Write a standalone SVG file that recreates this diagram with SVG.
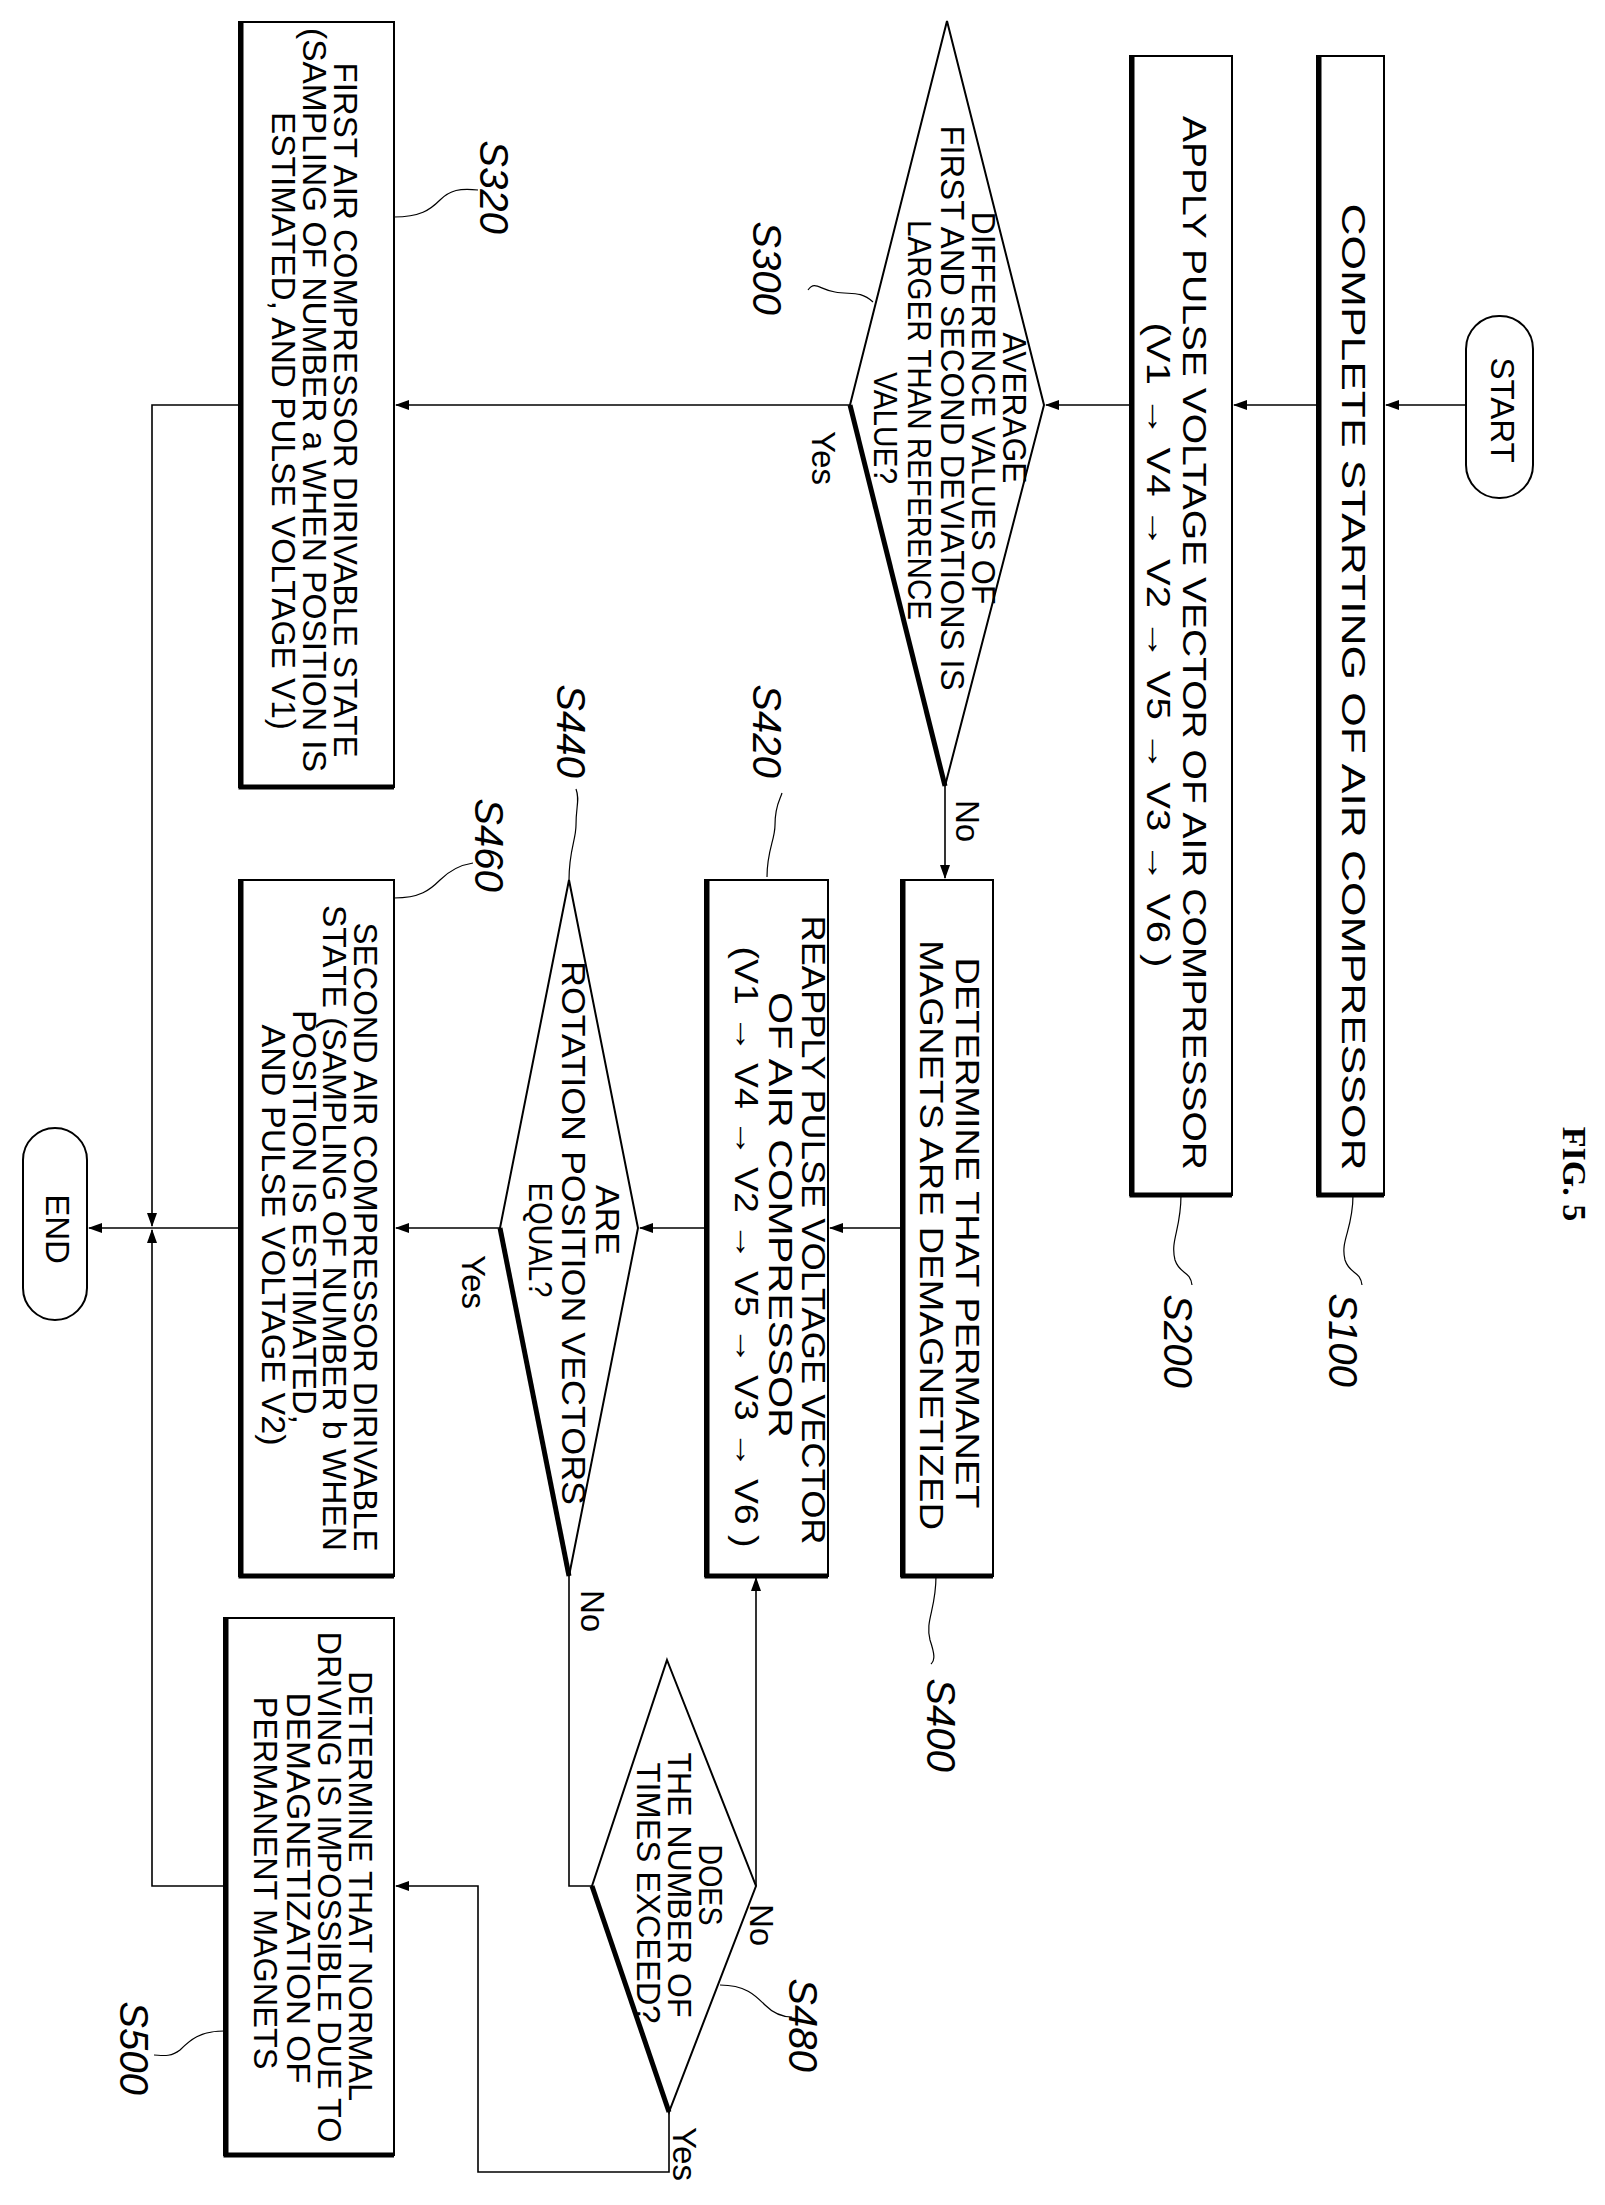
<svg xmlns="http://www.w3.org/2000/svg" width="1605" height="2205" viewBox="0 0 1605 2205">
<style>
.b{fill:#fff;stroke:#000;stroke-width:2}
.k{fill:none;stroke:#000;stroke-width:5}
.l{fill:none;stroke:#000;stroke-width:1.6}
.ld{fill:none;stroke:#000;stroke-width:1.2}
.t{font-family:"Liberation Sans",Arial,sans-serif;font-size:33px;text-anchor:middle;dominant-baseline:central}
.s{font-family:"Liberation Sans",Arial,sans-serif;font-style:italic;font-size:40px;text-anchor:middle;dominant-baseline:central}
</style>
<defs><marker id="a" markerWidth="14" markerHeight="10" refX="13" refY="5" orient="auto" markerUnits="userSpaceOnUse"><path d="M0,0 L14,5 L0,10 Z" fill="#000"/></marker></defs>
<g id="connectors">
<path class="l" d="M1466,405 H1386" marker-end="url(#a)"/>
<path class="l" d="M1317,405 H1234" marker-end="url(#a)"/>
<path class="l" d="M1130,405 H1046" marker-end="url(#a)"/>
<path class="l" d="M850,405 H396" marker-end="url(#a)"/>
<path class="l" d="M239,405 H152 V1226" marker-end="url(#a)"/>
<path class="l" d="M945,786 V878" marker-end="url(#a)"/>
<path class="l" d="M901,1228 H830" marker-end="url(#a)"/>
<path class="l" d="M705,1228 H640" marker-end="url(#a)"/>
<path class="l" d="M500,1228 H396" marker-end="url(#a)"/>
<path class="l" d="M239,1228 H89" marker-end="url(#a)"/>
<path class="l" d="M224,1886 H152 V1230" marker-end="url(#a)"/>
<path class="l" d="M569,1576 V1886 H592"/>
<path class="l" d="M756,1886 V1578" marker-end="url(#a)"/>
<path class="l" d="M669,2112 V2172 H478 V1886 H396" marker-end="url(#a)"/>
</g>
<g id="start"><rect x="1466" y="316" width="67" height="182" rx="33" class="b" stroke-width="3"/><text class="t" transform="translate(1502,410) rotate(90)" font-size="38">START</text></g>
<g id="end"><rect x="23" y="1128" width="64" height="192" rx="32" class="b" stroke-width="3"/><text class="t" transform="translate(57,1229) rotate(90)" font-size="38">END</text></g>
<g id="S100"><rect x="1317" y="56" width="67" height="1139" class="b"/><path class="k" d="M1319,56 V1195 H1384"/>
<text class="t" transform="translate(1353,687) rotate(90)" textLength="967" lengthAdjust="spacingAndGlyphs" font-size="42">COMPLETE STARTING OF AIR COMPRESSOR</text></g>
<g id="S200"><rect x="1130" y="56" width="102" height="1139" class="b"/><path class="k" d="M1132,56 V1195 H1232"/>
<text class="t" transform="translate(1194,643) rotate(90)" textLength="1054" lengthAdjust="spacingAndGlyphs" font-size="42">APPLY PULSE VOLTAGE VECTOR OF AIR COMPRESSOR</text>
<text class="t" transform="translate(1158,645) rotate(90)" textLength="645" lengthAdjust="spacingAndGlyphs" font-size="38">(V1 → V4 → V2 → V5 → V3 → V6 )</text></g>
<g id="S300"><polygon points="947,21 1044,405 945,786 850,405" class="b"/><path class="k" d="M850,405 L945,786"/>
<text class="t" transform="translate(1014,408) rotate(90)" textLength="151" lengthAdjust="spacingAndGlyphs">AVERAGE</text>
<text class="t" transform="translate(983,408) rotate(90)" textLength="393" lengthAdjust="spacingAndGlyphs">DIFFERENCE VALUES OF</text>
<text class="t" transform="translate(952,408) rotate(90)" textLength="565" lengthAdjust="spacingAndGlyphs">FIRST AND SECOND DEVIATIONS IS</text>
<text class="t" transform="translate(919,420) rotate(90)" textLength="400" lengthAdjust="spacingAndGlyphs">LARGER THAN REFERENCE</text>
<text class="t" transform="translate(885,428) rotate(90)" textLength="112" lengthAdjust="spacingAndGlyphs">VALUE?</text>
<text class="t" transform="translate(823,458) rotate(90)" font-size="36">Yes</text>
<text class="t" transform="translate(967,821) rotate(90)" font-size="36">No</text></g>
<g id="S320"><rect x="239" y="22" width="155" height="765" class="b"/><path class="k" d="M241,22 V787 H394"/>
<text class="t" transform="translate(345,410) rotate(90)" textLength="695" lengthAdjust="spacingAndGlyphs">FIRST AIR COMPRESSOR DIRIVABLE STATE</text>
<text class="t" transform="translate(314,400) rotate(90)" textLength="744" lengthAdjust="spacingAndGlyphs">(SAMPLING OF NUMBER a WHEN POSITION IS</text>
<text class="t" transform="translate(283,421) rotate(90)" textLength="618" lengthAdjust="spacingAndGlyphs">ESTIMATED, AND PULSE VOLTAGE V1)</text></g>
<g id="S400"><rect x="901" y="880" width="92" height="696" class="b"/><path class="k" d="M903,880 V1576 H993"/>
<text class="t" transform="translate(967,1233) rotate(90)" textLength="551" lengthAdjust="spacingAndGlyphs" font-size="40">DETERMINE THAT PERMANET</text>
<text class="t" transform="translate(931,1235) rotate(90)" textLength="590" lengthAdjust="spacingAndGlyphs" font-size="40">MAGNETS ARE DEMAGNETIZED</text></g>
<g id="S420"><rect x="705" y="880" width="123" height="696" class="b"/><path class="k" d="M707,880 V1576 H828"/>
<text class="t" transform="translate(813,1230) rotate(90)" textLength="629" lengthAdjust="spacingAndGlyphs" font-size="36">REAPPLY PULSE VOLTAGE VECTOR</text>
<text class="t" transform="translate(780,1215) rotate(90)" textLength="446" lengthAdjust="spacingAndGlyphs" font-size="36">OF AIR COMPRESSOR</text>
<text class="t" transform="translate(746,1247) rotate(90)" textLength="601" lengthAdjust="spacingAndGlyphs" font-size="36">(V1 → V4 → V2 → V5 → V3 → V6 )</text></g>
<g id="S440"><polygon points="569,880 638,1228 569,1576 500,1228" class="b"/><path class="k" d="M500,1228 L569,1576"/>
<text class="t" transform="translate(607,1220) rotate(90)" textLength="70" lengthAdjust="spacingAndGlyphs">ARE</text>
<text class="t" transform="translate(573,1233) rotate(90)" textLength="544" lengthAdjust="spacingAndGlyphs">ROTATION POSITION VECTORS</text>
<text class="t" transform="translate(540,1240) rotate(90)" textLength="115" lengthAdjust="spacingAndGlyphs">EQUAL?</text>
<text class="t" transform="translate(473,1282) rotate(90)" font-size="36">Yes</text>
<text class="t" transform="translate(592,1611) rotate(90)" font-size="36">No</text></g>
<g id="S460"><rect x="239" y="880" width="155" height="696" class="b"/><path class="k" d="M241,880 V1576 H394"/>
<text class="t" transform="translate(365,1237) rotate(90)" textLength="629" lengthAdjust="spacingAndGlyphs">SECOND AIR COMPRESSOR DIRIVABLE</text>
<text class="t" transform="translate(334,1228) rotate(90)" textLength="646" lengthAdjust="spacingAndGlyphs">STATE (SAMPLING OF NUMBER b WHEN</text>
<text class="t" transform="translate(304,1217) rotate(90)" textLength="414" lengthAdjust="spacingAndGlyphs">POSITION IS ESTIMATED,</text>
<text class="t" transform="translate(273,1235) rotate(90)" textLength="421" lengthAdjust="spacingAndGlyphs">AND PULSE VOLTAGE V2)</text></g>
<g id="S480"><polygon points="667,1660 756,1886 669,2112 592,1886" class="b"/><path class="k" d="M592,1886 L669,2112"/>
<text class="t" transform="translate(710,1885) rotate(90)" textLength="81" lengthAdjust="spacingAndGlyphs">DOES</text>
<text class="t" transform="translate(679,1885) rotate(90)" textLength="265" lengthAdjust="spacingAndGlyphs">THE NUMBER OF</text>
<text class="t" transform="translate(648,1893) rotate(90)" textLength="261" lengthAdjust="spacingAndGlyphs">TIMES EXCEED?</text>
<text class="t" transform="translate(761,1925) rotate(90)" font-size="36">No</text>
<text class="t" transform="translate(684,2154) rotate(90)" font-size="36">Yes</text></g>
<g id="S500"><rect x="224" y="1618" width="170" height="537" class="b"/><path class="k" d="M226,1618 V2155 H394"/>
<text class="t" transform="translate(360,1886) rotate(90)" textLength="430" lengthAdjust="spacingAndGlyphs">DETERMINE THAT NORMAL</text>
<text class="t" transform="translate(329,1887) rotate(90)" textLength="511" lengthAdjust="spacingAndGlyphs">DRIVING IS IMPOSSIBLE DUE TO</text>
<text class="t" transform="translate(298,1888) rotate(90)" textLength="391" lengthAdjust="spacingAndGlyphs">DEMAGNETIZATION OF</text>
<text class="t" transform="translate(265,1883) rotate(90)" textLength="373" lengthAdjust="spacingAndGlyphs">PERMANENT MAGNETS</text></g>
<g id="labels">
<path class="ld" d="M1353,1195 C1353,1230 1340,1240 1345,1260 C1350,1275 1360,1270 1362,1285"/>
<text class="s" transform="translate(1343,1340) rotate(90)">S100</text>
<path class="ld" d="M1181,1195 C1181,1230 1170,1240 1175,1260 C1180,1275 1190,1270 1192,1285"/>
<text class="s" transform="translate(1178,1341) rotate(90)">S200</text>
<path class="ld" d="M873,302 C860,290 850,295 835,292 C820,290 815,280 808,290"/>
<text class="s" transform="translate(767,268) rotate(90)">S300</text>
<path class="ld" d="M394,217 C420,217 430,210 440,200 C450,190 460,188 478,190"/>
<text class="s" transform="translate(494,187) rotate(90)">S320</text>
<path class="ld" d="M767,877 C767,850 775,840 775,825 C775,805 780,800 782,793"/>
<text class="s" transform="translate(767,731) rotate(90)">S420</text>
<path class="ld" d="M569,880 C569,850 576,840 576,825 C576,805 580,800 576,789"/>
<text class="s" transform="translate(571,731) rotate(90)">S440</text>
<path class="ld" d="M394,898 C420,898 430,890 440,880 C450,870 460,865 473,863"/>
<text class="s" transform="translate(489,845) rotate(90)">S460</text>
<path class="ld" d="M936,1576 C936,1610 925,1620 930,1640 C935,1655 935,1660 931,1664"/>
<text class="s" transform="translate(941,1725) rotate(90)">S400</text>
<path class="ld" d="M720,1985 C745,1985 755,1995 765,2005 C775,2015 785,2017 792,2017"/>
<text class="s" transform="translate(803,2025) rotate(90)">S480</text>
<path class="ld" d="M224,2031 C200,2031 190,2040 180,2050 C170,2058 160,2055 154,2055"/>
<text class="s" transform="translate(134,2048) rotate(90)">S500</text>
<text transform="translate(1574,1174) rotate(90)" font-family="Liberation Serif,serif" font-weight="bold" font-size="34" text-anchor="middle" dominant-baseline="central">FIG. 5</text>
</g>
</svg>
